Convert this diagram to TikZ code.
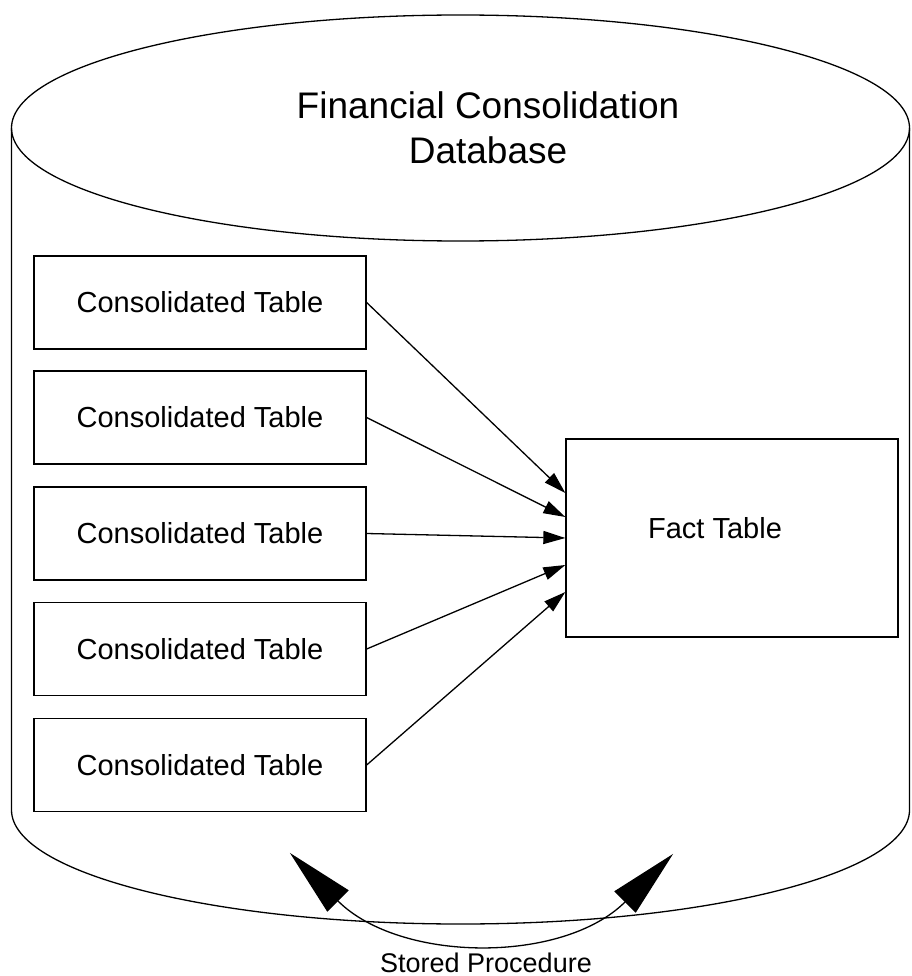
\documentclass[tikz,border=0pt]{standalone}
\usepackage{fontspec}
\setmainfont{Liberation Sans}
\usetikzlibrary{arrows.meta}
\begin{document}
\begin{tikzpicture}[x=1pt,y=-1pt, line width=1.3pt,
  ctab/.style={draw, minimum width=332pt, minimum height=93pt, inner sep=0pt, font=\fontsize{29}{35}\selectfont},
  fbox/.style={draw, minimum width=332pt, minimum height=198pt, inner sep=0pt},
  flow/.style={-{Triangle[length=22pt,width=13pt]}},
  big/.style={{Triangle[length=68pt,width=30pt]}-{Triangle[length=68pt,width=30pt]}, shorten <=-68pt, shorten >=-68pt}]
\useasboundingbox (0,0) rectangle (911,976);
% cylinder
\draw (460.5,128) ellipse [x radius=449, y radius=113];
\draw (11.5,128) -- (11.5,810) arc[start angle=180, end angle=0, x radius=449, y radius=114] -- (909.5,128);
\node[font=\fontsize{37}{45}\selectfont, align=center] (title) at (488,128) {Financial Consolidation\\Database};
% tables
\node[ctab] (c1) at (200,302.5) {Consolidated Table};
\node[ctab] (c2) at (200,417.5) {Consolidated Table};
\node[ctab] (c3) at (200,533.5) {Consolidated Table};
\node[ctab] (c4) at (200,649) {Consolidated Table};
\node[ctab] (c5) at (200,765) {Consolidated Table};
\node[fbox, label={[name=ftl, xshift=-17pt, yshift=10pt, font=\fontsize{29}{35}\selectfont]center:Fact Table}] (fact) at (732,538) {};
\draw[flow] (c1.east) -- ([yshift=45pt]fact.west);
\draw[flow] (c2.east) -- ([yshift=21pt]fact.west);
\draw[flow] (c3.east) -- (fact.west);
\draw[flow] (c4.east) -- ([yshift=-27pt]fact.west);
\draw[flow] (c5.east) -- ([yshift=-54pt]fact.west);
% stored procedure
\coordinate (spa) at (338,901);
\coordinate (spb) at (625,902);
\draw[big] (spa) .. controls (400,963) and (563,964) .. (spb);
\node[font=\fontsize{27}{32}\selectfont, anchor=base, inner sep=0pt] (sp) at (486,972) {Stored Procedure};
\end{tikzpicture}
\end{document}
